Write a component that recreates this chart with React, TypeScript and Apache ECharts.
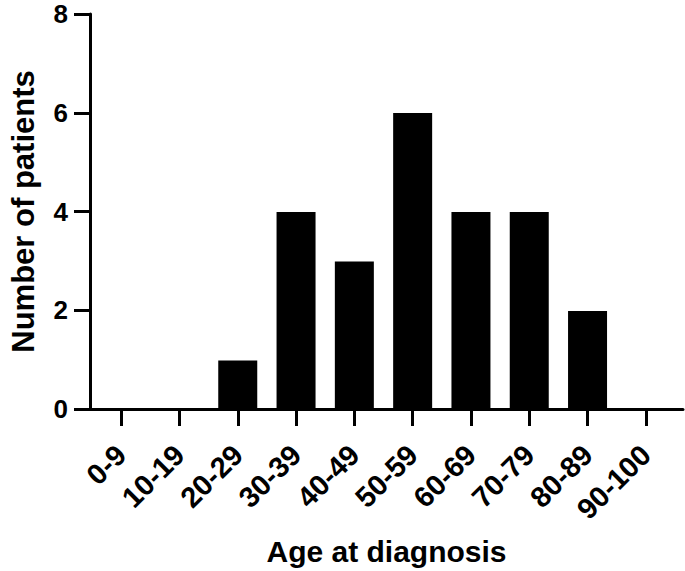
import React, { useEffect, useRef } from "react";
import * as echarts from "echarts";

const categories = ["0-9", "10-19", "20-29", "30-39", "40-49", "50-59", "60-69", "70-79", "80-89", "90-100"];
const patients = [0, 0, 1, 4, 3, 6, 4, 4, 2, 0];
const yTicks = [0, 2, 4, 6, 8];

const FONT = "'Liberation Sans', Arial, Helvetica, sans-serif";

export default function App() {
  const ref = useRef<HTMLDivElement>(null);
  useEffect(() => {
    if (!ref.current) return;
    const chart = echarts.init(ref.current, undefined, { renderer: "svg" });
    const axisLine = { show: true, lineStyle: { color: "#000", width: 3 } };
    chart.setOption({
      animation: false,
      backgroundColor: "#fff",
      grid: [
        { left: 83, right: 2, top: 14, bottom: 161 },
        { left: 92, right: 10, top: 14, bottom: 161 },
      ],
      xAxis: [
        {
          type: "value",
          gridIndex: 0,
          min: 0,
          max: 1,
          axisLine,
          axisTick: { show: false },
          axisLabel: { show: false },
          splitLine: { show: false },
          name: "Age at diagnosis",
          nameLocation: "middle",
          nameGap: 127,
          nameTextStyle: { fontFamily: FONT, fontWeight: "bold", fontSize: 30, color: "#000" },
        },
        {
          type: "category",
          gridIndex: 1,
          data: categories,
          axisLine: { show: false },
          axisTick: {
            show: true,
            alignWithLabel: true,
            length: 16,
            lineStyle: { color: "#000", width: 3 },
          },
          axisLabel: {
            rotate: 45,
            interval: 0,
            margin: 40,
            fontFamily: FONT,
            fontWeight: "bold",
            fontSize: 29,
            color: "#000",
          },
          splitLine: { show: false },
        },
      ],
      yAxis: [
        {
          type: "value",
          gridIndex: 0,
          min: yTicks[0],
          max: yTicks[yTicks.length - 1],
          interval: 2,
          axisLine,
          axisTick: { show: true, length: 16, lineStyle: { color: "#000", width: 3 } },
          axisLabel: {
            margin: 22,
            fontFamily: FONT,
            fontWeight: "bold",
            fontSize: 26,
            lineHeight: 22,
            color: "#000",
          },
          splitLine: { show: false },
          name: "Number of patients",
          nameLocation: "middle",
          nameGap: 51,
          nameTextStyle: { fontFamily: FONT, fontWeight: "bold", fontSize: 31, color: "#000" },
        },
        {
          type: "value",
          gridIndex: 1,
          min: yTicks[0],
          max: yTicks[yTicks.length - 1],
          show: false,
          splitLine: { show: false },
        },
      ],
      series: [
        {
          type: "bar",
          xAxisIndex: 1,
          yAxisIndex: 1,
          data: patients,
          barWidth: 39,
          itemStyle: { color: "#000" },
        },
      ],
    });
    return () => chart.dispose();
  }, []);
  return <div ref={ref} style={{ width: 685, height: 571, position: "absolute", left: 0, top: 0 }} />;
}
